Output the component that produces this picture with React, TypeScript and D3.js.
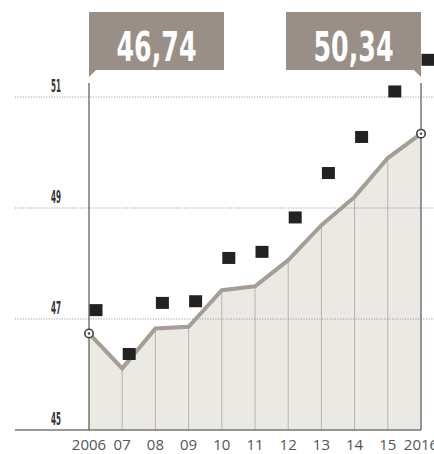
import React from "react";
import * as d3 from "d3";

const years = [2006, 2007, 2008, 2009, 2010, 2011, 2012, 2013, 2014, 2015, 2016];
const yearLabels = ["2006", "07", "08", "09", "10", "11", "12", "13", "14", "15", "2016"];
const lineValues = [46.74, 46.11, 46.83, 46.86, 47.52, 47.59, 48.06, 48.69, 49.2, 49.9, 50.34];
const squareValues = [47.16, 46.37, 47.29, 47.32, 48.1, 48.21, 48.83, 49.63, 50.28, 51.1, 51.67];
const yTicks = [45, 47, 49, 51];
const calloutLabels = ["46,74", "50,34"];

const W = 434;
const H = 454;

export default function App() {
  const x = d3.scaleLinear().domain([2006, 2016]).range([89, 421]);
  const y = d3.scaleLinear().domain([45, 51]).range([430, 97]);

  const pts = years.map((yr, i) => [yr, lineValues[i]] as [number, number]);
  const area = d3
    .area<[number, number]>()
    .x((d) => x(d[0]))
    .y0(y(45))
    .y1((d) => y(d[1]))(pts) as string;
  const line = d3
    .line<[number, number]>()
    .x((d) => x(d[0]))
    .y((d) => y(d[1]))(pts) as string;

  const sq = 13;
  const boxTop = 12;
  const boxBottom = 70;
  const x0 = x(2006);
  const x1 = x(2016);
  const boxW = 135;

  return (
    <svg
      width={W}
      height={H}
      style={{ position: "fixed", left: 0, top: 0, background: "#fff" }}
    >
      <path d={area} fill="#ebe9e4" />
      {years.slice(1, -1).map((yr, i) => (
        <line
          key={yr}
          x1={x(yr)}
          x2={x(yr)}
          y1={y(lineValues[i + 1])}
          y2={y(45)}
          stroke="#b9b4ae"
          strokeWidth={1}
        />
      ))}
      {yTicks.slice(1).map((t) => (
        <line
          key={t}
          x1={15}
          x2={W}
          y1={y(t)}
          y2={y(t)}
          stroke="#888"
          strokeWidth={0.8}
          strokeDasharray="1.2 1.4"
        />
      ))}
      {yTicks.map((t) => (
        <text
          key={t}
          x={61}
          y={y(t) - 5}
          textAnchor="end"
          fontFamily="'Liberation Sans Narrow', 'DejaVu Sans Condensed', sans-serif"
          fontWeight="bold"
          fontSize={17}
          fill="#333"
          textLength={10}
          lengthAdjust="spacingAndGlyphs"
        >
          {t}
        </text>
      ))}
      <line x1={15} x2={x1} y1={y(45)} y2={y(45)} stroke="#777" strokeWidth={1.3} />
      <line x1={x0} x2={x0} y1={83} y2={y(45)} stroke="#555" strokeWidth={1.2} />
      <line x1={x1} x2={x1} y1={83} y2={y(45)} stroke="#555" strokeWidth={1.2} />
      <path d={line} fill="none" stroke="#a59d96" strokeWidth={4} strokeLinejoin="miter" />
      {years.map((yr, i) => (
        <rect
          key={yr}
          x={x(yr) + 7 - sq / 2}
          y={y(squareValues[i]) - 6}
          width={sq}
          height={12}
          fill="#222"
        />
      ))}
      {[0, years.length - 1].map((i) => (
        <g key={i}>
          <circle cx={x(years[i])} cy={y(lineValues[i])} r={4.2} fill="#fff" stroke="#444" strokeWidth={1.6} />
          <circle cx={x(years[i])} cy={y(lineValues[i])} r={1.2} fill="#444" />
        </g>
      ))}
      <path
        d={`M${x0},${boxTop}H${x0 + boxW}V${boxBottom}H${x0 + 7}L${x0},${boxBottom + 7}Z`}
        fill="#9a8f87"
      />
      <path
        d={`M${x1},${boxTop}H${x1 - boxW}V${boxBottom}H${x1 - 7}L${x1},${boxBottom + 7}Z`}
        fill="#9a8f87"
      />
      {[x0 + boxW / 2, x1 - boxW / 2].map((cx, i) => (
        <text
          key={i}
          x={cx}
          y={61}
          textAnchor="middle"
          fontFamily="'Liberation Sans Narrow', 'DejaVu Sans Condensed', sans-serif"
          fontWeight="bold"
          fontSize={40}
          fill="#fff"
          textLength={80}
          lengthAdjust="spacingAndGlyphs"
        >
          {calloutLabels[i]}
        </text>
      ))}
      {years.map((yr, i) => (
        <text
          key={yr}
          x={x(yr)}
          y={450}
          textAnchor="middle"
          fontFamily="'Open Sans', sans-serif"
          fontSize={15}
          fill="#555"
        >
          {yearLabels[i]}
        </text>
      ))}
    </svg>
  );
}
